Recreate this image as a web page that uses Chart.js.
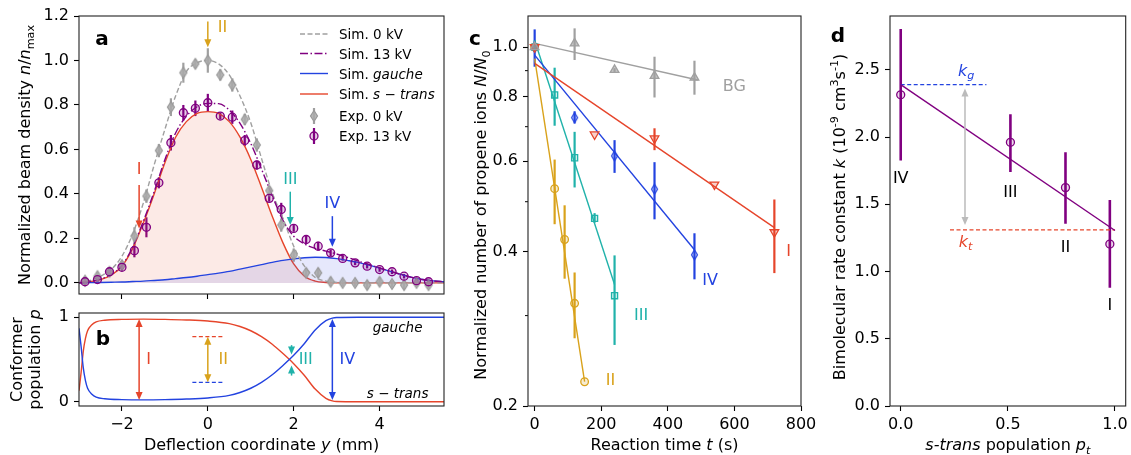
<!DOCTYPE html>
<html>
<head>
<meta charset="utf-8">
<title>Conformer-selected reaction kinetics</title>
<script src="https://cdn.jsdelivr.net/npm/chart.js@4.4.1/dist/chart.umd.min.js"></script>
<style>
  html, body { margin: 0; padding: 0; background: #fff; }
  #fig { position: relative; width: 1131px; height: 455px; }
  #fig canvas { position: absolute; left: 0; top: 0; }
</style>
</head>
<body>
<div id="fig">
  <canvas id="panelA" width="1131" height="455"></canvas>
  <canvas id="panelB" width="1131" height="455"></canvas>
  <canvas id="panelC" width="1131" height="455"></canvas>
  <canvas id="panelD" width="1131" height="455"></canvas>
</div>
<script>
// ---- panel a: beam profiles ----
const expY = [-2.86, -2.57, -2.29, -2.0, -1.71, -1.43, -1.14, -0.86, -0.57, -0.29, 0, 0.29, 0.57, 0.86, 1.14,
  1.43, 1.71, 2.0, 2.29, 2.57, 2.86, 3.14, 3.43, 3.71, 4.0, 4.29, 4.57, 4.86, 5.14];
const exp0kV = [0.01, 0.03, 0.05, 0.08, 0.21, 0.39, 0.595, 0.79, 0.945, 0.985, 1.0, 0.935, 0.89, 0.735, 0.62,
  0.415, 0.26, 0.125, 0.045, 0.045, 0.005, 0.0, 0.0, -0.01, 0.005, -0.005, -0.01, 0.0, -0.01];
const exp0kVErr = [0.02, 0.02, 0.02, 0.02, 0.04, 0.03, 0.03, 0.04, 0.045, 0.02, 0.055, 0.025, 0.03, 0.025, 0.03,
  0.02, 0.03, 0.03, 0.02, 0.02, 0.02, 0.015, 0.015, 0.02, 0.02, 0.015, 0.02, 0.015, 0.015];
const exp13kV = [0.005, 0.015, 0.05, 0.07, 0.145, 0.25, 0.45, 0.63, 0.765, 0.785, 0.81, 0.75, 0.745, 0.64, 0.53,
  0.38, 0.33, 0.245, 0.195, 0.165, 0.135, 0.11, 0.09, 0.075, 0.06, 0.05, 0.03, 0.01, 0.005];
const exp13kVErr = [0.01, 0.01, 0.015, 0.015, 0.03, 0.045, 0.025, 0.035, 0.035, 0.035, 0.04, 0.015, 0.03, 0.025, 0.02,
  0.015, 0.03, 0.015, 0.02, 0.02, 0.015, 0.01, 0.01, 0.01, 0.01, 0.01, 0.01, 0.01, 0.01];

const simY = [-3, -2.75, -2.5, -2.25, -2, -1.75, -1.5, -1.25, -1, -0.75, -0.5, -0.25, 0, 0.25, 0.5, 0.75, 1,
  1.25, 1.5, 1.75, 2, 2.25, 2.5, 2.75, 3, 3.25, 3.5, 3.75, 4, 4.25, 4.5, 4.75, 5, 5.25, 5.5];
const sim0kV = [0, 0.01, 0.03, 0.06, 0.12, 0.22, 0.36, 0.53, 0.69, 0.84, 0.95, 0.99, 1.0, 0.985, 0.935, 0.84, 0.72,
  0.56, 0.405, 0.29, 0.165, 0.075, 0.025, 0.008, 0.002, 0, 0, 0, 0, 0, 0, 0, 0, 0, 0];
const sim13kV = [0, 0.006, 0.017, 0.038, 0.079, 0.161, 0.278, 0.41, 0.554, 0.674, 0.749, 0.792, 0.807, 0.806, 0.777,
  0.717, 0.627, 0.512, 0.392, 0.281, 0.21, 0.175, 0.155, 0.143, 0.13, 0.115, 0.098, 0.083, 0.067, 0.052, 0.038,
  0.025, 0.015, 0.009, 0.005];
const simGauche = [0, 0.001, 0.002, 0.003, 0.004, 0.006, 0.008, 0.011, 0.014, 0.019, 0.024, 0.03, 0.037, 0.044,
  0.052, 0.062, 0.072, 0.082, 0.092, 0.101, 0.108, 0.113, 0.115, 0.114, 0.109, 0.101, 0.092, 0.08, 0.066, 0.052,
  0.038, 0.025, 0.015, 0.009, 0.005];
const simTrans = [0, 0.005, 0.015, 0.035, 0.075, 0.155, 0.27, 0.4, 0.54, 0.655, 0.725, 0.762, 0.77, 0.762, 0.725,
  0.655, 0.555, 0.43, 0.3, 0.18, 0.085, 0.03, 0.008, 0.002, 0, 0, 0, 0, 0, 0, 0, 0, 0, 0, 0];

// ---- panel b: conformer populations ----
const popY = [-3.0, -2.95, -2.9, -2.85, -2.8, -2.7, -2.6, -2.4, -2.0, -1.5, -1.0, -0.5, 0, 0.5, 0.75, 1.0, 1.25,
  1.5, 1.75, 2.0, 2.25, 2.5, 2.75, 2.9, 3.0, 3.5, 4.0, 5.5];
const popTrans = [0.13, 0.35, 0.6, 0.75, 0.84, 0.91, 0.945, 0.965, 0.975, 0.978, 0.975, 0.968, 0.955, 0.925, 0.89,
  0.84, 0.77, 0.68, 0.57, 0.45, 0.31, 0.15, 0.04, 0.01, 0.003, 0, 0, 0];
const popGauche = [0.87, 0.65, 0.4, 0.25, 0.16, 0.09, 0.055, 0.035, 0.025, 0.022, 0.025, 0.032, 0.045, 0.075, 0.11,
  0.16, 0.23, 0.32, 0.43, 0.55, 0.69, 0.85, 0.96, 0.99, 0.997, 1, 1, 1];
const popIIy = [-0.36, 0.34];
const popIItrans = [0.77, 0.77];
const popIIgauche = [0.23, 0.23];

// ---- panel c: depletion of propene ions ----
const tBG = [0, 120, 240, 360, 480];
const nBG = [1.0, 1.017, 0.903, 0.879, 0.872];
const nBGlo = [1.0, 0.944, 0.895, 0.798, 0.808];
const nBGhi = [1.0, 1.088, 0.91, 0.958, 0.941];
const fitBGt = [0, 490];
const fitBG = [1.017, 0.863];

const tI = [0, 180, 360, 540, 720];
const nI = [1.0, 0.676, 0.664, 0.54, 0.436];
const nIlo = [1.0, 0.676, 0.63, 0.54, 0.363];
const nIhi = [1.0, 0.676, 0.695, 0.54, 0.505];
const fitIt = [0, 720];
const fitI = [0.93, 0.445];

const tII = [0, 60, 90, 120, 150];
const nII = [1.0, 0.53, 0.422, 0.317, 0.223];
const nIIlo = [1.0, 0.452, 0.354, 0.271, 0.223];
const nIIhi = [1.0, 0.604, 0.492, 0.364, 0.223];
const fitIIt = [0, 150];
const fitII = [0.95, 0.223];

const tIII = [0, 60, 120, 180, 240];
const nIII = [1.0, 0.807, 0.609, 0.464, 0.328];
const nIIIlo = [0.98, 0.703, 0.533, 0.455, 0.263];
const nIIIhi = [1.03, 0.912, 0.684, 0.475, 0.393];
const fitIIIt = [0, 240];
const fitIII = [1.03, 0.345];

const tIV = [0, 120, 240, 360, 480];
const nIV = [1.0, 0.729, 0.614, 0.529, 0.394];
const nIVlo = [0.916, 0.71, 0.569, 0.462, 0.353];
const nIVhi = [1.083, 0.75, 0.659, 0.597, 0.434];
const fitIVt = [0, 480];
const fitIV = [0.965, 0.403];

// ---- panel d: rate constants ----
const pTrans = [0.0, 0.512, 0.769, 0.976];
const kRate = [2.314, 1.961, 1.624, 1.204];
const kRateLo = [1.825, 1.74, 1.355, 0.879];
const kRateHi = [2.803, 2.17, 1.887, 1.532];
const fitKp = [0.0, 1.0];
const fitK = [2.39, 1.305];
const kgP = [0.0, 0.4];
const kgVal = [2.39, 2.39];
const ktP = [0.23, 1.0];
const ktVal = [1.31, 1.31];
const regionNames = ['IV', 'III', 'II', 'I'];

// tick positions
const ticksAx = [-2, 0, 2, 4];
const ticksAy = [0, 0.2, 0.4, 0.6, 0.8, 1.0, 1.2];
const ticksBy = [0, 1];
const ticksCx = [0, 200, 400, 600, 800];
const ticksCy = [0.2, 0.4, 0.6, 0.8, 1.0];
const minorCy = [0.3, 0.5, 0.7, 0.9];
const ticksDx = [0, 0.5, 1.0];
const ticksDy = [0, 0.5, 1.0, 1.5, 2.0, 2.5];

// colours
const RED = '#e6452b';
const BLUE = '#2343e0';
const GOLD = '#d9a21b';
const TEAL = '#20b2aa';
const PURPLE = '#800080';
const GRAY = '#a0a0a0';
const FONT = '"DejaVu Sans", sans-serif';

Chart.defaults.font.family = FONT;
Chart.defaults.font.size = 16;
Chart.defaults.color = '#000';
Chart.defaults.animation = false;

function pts(xs, ys) { return xs.map((x, i) => ({ x: x, y: ys[i] })); }

function axis(min, max, ticks, size, horiz, fmt, type, pad) {
  return {
    type: type || 'linear', min: min, max: max,
    afterBuildTicks: s => { s.ticks = ticks.map(v => ({ value: v })); },
    afterFit: s => {
      if (horiz) s.height = size; else s.width = size;
      s.paddingLeft = 0; s.paddingRight = 0; s.paddingTop = 0; s.paddingBottom = 0;
    },
    grid: { drawOnChartArea: false, drawTicks: true, tickLength: 5, tickWidth: 1.1, tickColor: '#000' },
    border: { display: false },
    ticks: { padding: pad || 4, autoSkip: false, maxRotation: 0, minRotation: 0, callback: fmt }
  };
}
const fmtNone = () => '';
const fmtMinus = v => (v < 0 ? '\u2212' : '') + Math.abs(v);
const fmt1 = v => Number(v).toFixed(1);
const fmtInt = v => String(v);

// text with italic / sub / superscript pieces
function rich(ctx, segs, x, y, size, opt) {
  opt = opt || {};
  ctx.save();
  ctx.translate(x, y);
  if (opt.rot) ctx.rotate(-Math.PI / 2);
  ctx.fillStyle = opt.color || '#000';
  ctx.textBaseline = 'alphabetic';
  ctx.textAlign = 'left';
  let w = 0;
  const f = segs.map(s => {
    const sz = (s.sub || s.sup) ? size * 0.7 : size;
    const font = (s.i ? 'italic ' : '') + (s.b ? 'bold ' : '') + sz + 'px ' + FONT;
    ctx.font = font;
    const ww = ctx.measureText(s.t).width;
    w += ww;
    return { font: font, w: ww };
  });
  let cx = opt.left ? 0 : -w / 2;
  segs.forEach((s, k) => {
    ctx.font = f[k].font;
    const dy = s.sub ? size * 0.22 : (s.sup ? -size * 0.42 : 0);
    ctx.fillText(s.t, cx, dy);
    cx += f[k].w;
  });
  ctx.restore();
}

function label(ctx, text, x, y, size, color, bold) {
  ctx.save();
  ctx.font = (bold ? 'bold ' : '') + size + 'px ' + FONT;
  ctx.fillStyle = color || '#000';
  ctx.textAlign = 'center';
  ctx.textBaseline = 'middle';
  ctx.fillText(text, x, y);
  ctx.restore();
}

function head(ctx, x, y, dx, dy, color) {
  const L = 8, W = 3.5;
  const n = Math.hypot(dx, dy); dx /= n; dy /= n;
  ctx.fillStyle = color;
  ctx.beginPath();
  ctx.moveTo(x, y);
  ctx.lineTo(x - dx * L - dy * W, y - dy * L + dx * W);
  ctx.lineTo(x - dx * L + dy * W, y - dy * L - dx * W);
  ctx.closePath();
  ctx.fill();
}

function arrow(ctx, x0, y0, x1, y1, color, both) {
  ctx.save();
  ctx.strokeStyle = color;
  ctx.lineWidth = 1.5;
  const n = Math.hypot(x1 - x0, y1 - y0);
  const ux = (x1 - x0) / n, uy = (y1 - y0) / n;
  ctx.beginPath();
  ctx.moveTo(both ? x0 + ux * 6 : x0, both ? y0 + uy * 6 : y0);
  ctx.lineTo(x1 - ux * 6, y1 - uy * 6);
  ctx.stroke();
  head(ctx, x1, y1, ux, uy, color);
  if (both) head(ctx, x0, y0, -ux, -uy, color);
  ctx.restore();
}

function frame(chart) {
  const { ctx, chartArea: a } = chart;
  ctx.save();
  ctx.strokeStyle = '#222';
  ctx.lineWidth = 1.1;
  ctx.strokeRect(a.left, a.top, a.right - a.left, a.bottom - a.top);
  ctx.restore();
}

const errorBars = {
  id: 'errorBars',
  beforeDatasetsDraw(chart) {
    const { ctx, chartArea: a, scales } = chart;
    ctx.save();
    ctx.beginPath();
    ctx.rect(a.left, a.top, a.right - a.left, a.bottom - a.top);
    ctx.clip();
    chart.data.datasets.forEach(ds => {
      if (!ds.errLo) return;
      ctx.strokeStyle = ds.errColor;
      ctx.lineWidth = ds.errWidth || 2;
      ds.data.forEach((p, i) => {
        const px = scales.x.getPixelForValue(p.x);
        ctx.beginPath();
        ctx.moveTo(px, scales.y.getPixelForValue(ds.errLo[i]));
        ctx.lineTo(px, scales.y.getPixelForValue(ds.errHi[i]));
        ctx.stroke();
      });
    });
    ctx.restore();
  }
};

function diamond(stroke, fill, w, h) {
  const c = document.createElement('canvas');
  c.width = w + 3; c.height = h + 3;
  const g = c.getContext('2d');
  g.beginPath();
  g.moveTo(c.width / 2, 1.5);
  g.lineTo(c.width - 1.5, c.height / 2);
  g.lineTo(c.width / 2, c.height - 1.5);
  g.lineTo(1.5, c.height / 2);
  g.closePath();
  g.fillStyle = fill; g.fill();
  g.lineWidth = 1.2; g.strokeStyle = stroke; g.stroke();
  return c;
}
const grayDiamond = diamond('#999', 'rgba(170,170,170,0.85)', 7, 11);
const blueDiamond = diamond(BLUE, 'rgba(35,67,224,0.2)', 6, 10);

function curve(xs, ys, color, extra) {
  return Object.assign({
    data: pts(xs, ys), showLine: true, borderColor: color, borderWidth: 1.4,
    pointRadius: 0, cubicInterpolationMode: 'monotone', fill: false
  }, extra || {});
}
function markers(xs, ys, lo, hi, color, extra) {
  return Object.assign({
    data: pts(xs, ys), showLine: false, errLo: lo, errHi: hi, errColor: color, errWidth: 2.2,
    pointRadius: 4, pointBorderWidth: 1.3, pointBorderColor: color
  }, extra || {});
}

// ---------------- panel a ----------------
const decoA = {
  id: 'decoA',
  afterDatasetsDraw(chart) {
    const { ctx, chartArea: a, scales: { x, y } } = chart;
    const ar = [
      { px: -1.6, y0: 0.44, y1: 0.245, c: RED, t: 'I', ty: 0.51, tx: -1.6 },
      { px: 0, y0: 1.175, y1: 1.06, c: GOLD, t: 'II', ty: 1.145, tx: 0.34 },
      { px: 1.92, y0: 0.41, y1: 0.26, c: TEAL, t: 'III', ty: 0.465, tx: 1.92 },
      { px: 2.9, y0: 0.3, y1: 0.162, c: BLUE, t: 'IV', ty: 0.355, tx: 2.9 }
    ];
    ar.forEach(r => {
      arrow(ctx, x.getPixelForValue(r.px), y.getPixelForValue(r.y0), x.getPixelForValue(r.px), y.getPixelForValue(r.y1), r.c, false);
      label(ctx, r.t, x.getPixelForValue(r.tx), y.getPixelForValue(r.ty), 16, r.c);
    });
    label(ctx, 'a', a.left + 23, a.top + 24, 20, '#000', true);

    // legend
    const x0 = a.right - 144, x1 = a.right - 116, tx = a.right - 105, mx = (x0 + x1) / 2;
    const rows = [34, 53.5, 73.5, 94, 116, 136];
    ctx.save();
    ctx.lineWidth = 1.4;
    const line = (r, c, dash) => {
      ctx.strokeStyle = c; ctx.setLineDash(dash);
      ctx.beginPath(); ctx.moveTo(x0, rows[r]); ctx.lineTo(x1, rows[r]); ctx.stroke();
    };
    line(0, GRAY, [5, 2.5]);
    line(1, PURPLE, [8, 2.5, 1.5, 2.5]);
    line(2, BLUE, []);
    line(3, RED, []);
    ctx.setLineDash([]);
    ctx.lineWidth = 2.2;
    ctx.strokeStyle = GRAY;
    ctx.beginPath(); ctx.moveTo(mx, rows[4] - 8); ctx.lineTo(mx, rows[4] + 8); ctx.stroke();
    ctx.drawImage(grayDiamond, mx - grayDiamond.width / 2, rows[4] - grayDiamond.height / 2);
    ctx.strokeStyle = PURPLE;
    ctx.beginPath(); ctx.moveTo(mx, rows[5] - 8); ctx.lineTo(mx, rows[5] + 8); ctx.stroke();
    ctx.lineWidth = 1.3;
    ctx.fillStyle = 'rgba(128,0,128,0.2)';
    ctx.beginPath(); ctx.arc(mx, rows[5], 4, 0, Math.PI * 2); ctx.fill(); ctx.stroke();
    ctx.restore();
    const fs = 13.5, off = 5;
    rich(ctx, [{ t: 'Sim. 0 kV' }], tx, rows[0] + off, fs, { left: true });
    rich(ctx, [{ t: 'Sim. 13 kV' }], tx, rows[1] + off, fs, { left: true });
    rich(ctx, [{ t: 'Sim. ' }, { t: 'gauche', i: 1 }], tx, rows[2] + off, fs, { left: true });
    rich(ctx, [{ t: 'Sim. ' }, { t: 's', i: 1 }, { t: ' \u2212 ' }, { t: 'trans', i: 1 }], tx, rows[3] + off, fs, { left: true });
    rich(ctx, [{ t: 'Exp. 0 kV' }], tx, rows[4] + off, fs, { left: true });
    rich(ctx, [{ t: 'Exp. 13 kV' }], tx, rows[5] + off, fs, { left: true });

    rich(ctx, [{ t: 'Normalized beam density ' }, { t: 'n', i: 1 }, { t: '/' }, { t: 'n', i: 1 }, { t: 'max', sub: 1 }],
      30, (a.top + a.bottom) / 2, 16, { rot: true });
    frame(chart);
  }
};

new Chart(document.getElementById('panelA'), {
  type: 'scatter',
  data: {
    datasets: [
      markers(expY, exp13kV, exp13kV.map((v, i) => v - exp13kVErr[i]), exp13kV.map((v, i) => v + exp13kVErr[i]), PURPLE,
        { pointBackgroundColor: 'rgba(128,0,128,0.2)' }),
      markers(expY, exp0kV, exp0kV.map((v, i) => v - exp0kVErr[i]), exp0kV.map((v, i) => v + exp0kVErr[i]), GRAY,
        { pointStyle: grayDiamond }),
      curve(simY, sim13kV, PURPLE, { borderDash: [8, 2.5, 1.5, 2.5] }),
      curve(simY, sim0kV, GRAY, { borderDash: [5, 2.5] }),
      curve(simY, simGauche, BLUE, { fill: 'origin', backgroundColor: 'rgba(60,80,230,0.13)' }),
      curve(simY, simTrans, RED, { fill: 'origin', backgroundColor: 'rgba(235,95,60,0.13)' })
    ]
  },
  options: {
    responsive: false,
    layout: { padding: { left: 29, right: 687, top: 16, bottom: 153 } },
    plugins: { legend: { display: false }, tooltip: { enabled: false } },
    scales: {
      x: axis(-3, 5.5, ticksAx, 8, true, fmtNone),
      y: axis(-0.05, 1.2, ticksAy, 50, false, fmt1, 'linear', 5)
    }
  },
  plugins: [errorBars, decoA]
});

// ---------------- panel b ----------------
const decoB = {
  id: 'decoB',
  afterDatasetsDraw(chart) {
    const { ctx, chartArea: a, scales: { x, y } } = chart;
    const X = v => x.getPixelForValue(v), Y = v => y.getPixelForValue(v);
    arrow(ctx, X(-1.6), Y(0.02), X(-1.6), Y(0.98), RED, true);
    arrow(ctx, X(0), Y(0.23), X(0), Y(0.77), GOLD, true);
    arrow(ctx, X(1.95), Y(0.67), X(1.95), Y(0.56), TEAL, false);
    arrow(ctx, X(1.95), Y(0.31), X(1.95), Y(0.43), TEAL, false);
    arrow(ctx, X(2.9), Y(0.02), X(2.9), Y(0.98), BLUE, true);
    label(ctx, 'I', X(-1.38), Y(0.5), 16, RED);
    label(ctx, 'II', X(0.36), Y(0.5), 16, GOLD);
    label(ctx, 'III', X(2.28), Y(0.5), 16, TEAL);
    label(ctx, 'IV', X(3.25), Y(0.5), 16, BLUE);
    label(ctx, 'b', a.left + 24, a.top + 27, 20, '#000', true);
    rich(ctx, [{ t: 'gauche', i: 1 }], X(4.42), Y(0.88) + 5, 13.5);
    rich(ctx, [{ t: 's', i: 1 }, { t: ' \u2212 ' }, { t: 'trans', i: 1 }], X(4.42), Y(0.1) + 5, 13.5);
    rich(ctx, [{ t: 'Conformer' }], 22, (a.top + a.bottom) / 2, 16, { rot: true });
    rich(ctx, [{ t: 'population ' }, { t: 'p', i: 1 }], 40, (a.top + a.bottom) / 2, 16, { rot: true });
    rich(ctx, [{ t: 'Deflection coordinate ' }, { t: 'y', i: 1 }, { t: ' (mm)' }], (a.left + a.right) / 2, 450, 16);
    frame(chart);
  }
};

new Chart(document.getElementById('panelB'), {
  type: 'scatter',
  data: {
    datasets: [
      curve(popIIy, popIItrans, RED, { borderDash: [4, 2.5], borderWidth: 1.2, cubicInterpolationMode: 'default' }),
      curve(popIIy, popIIgauche, BLUE, { borderDash: [4, 2.5], borderWidth: 1.2, cubicInterpolationMode: 'default' }),
      curve(popY, popGauche, BLUE),
      curve(popY, popTrans, RED)
    ]
  },
  options: {
    responsive: false,
    layout: { padding: { left: 29, right: 687, top: 313, bottom: 19 } },
    plugins: { legend: { display: false }, tooltip: { enabled: false } },
    scales: {
      x: axis(-3, 5.5, ticksAx, 30, true, fmtMinus),
      y: axis(-0.05, 1.05, ticksBy, 50, false, fmtInt, 'linear', 5)
    }
  },
  plugins: [decoB]
});

// ---------------- panel c ----------------
const decoC = {
  id: 'decoC',
  afterDatasetsDraw(chart) {
    const { ctx, chartArea: a, scales: { x, y } } = chart;
    const X = v => x.getPixelForValue(v), Y = v => y.getPixelForValue(v);
    ctx.save();
    ctx.strokeStyle = '#000'; ctx.lineWidth = 1;
    minorCy.forEach(v => {
      ctx.beginPath(); ctx.moveTo(a.left, Y(v)); ctx.lineTo(a.left - 3, Y(v)); ctx.stroke();
    });
    ctx.restore();
    label(ctx, 'BG', X(600), Y(0.836), 16, GRAY);
    label(ctx, 'I', X(763), Y(0.399), 16, RED);
    label(ctx, 'IV', X(527), Y(0.35), 16, BLUE);
    label(ctx, 'III', X(320), Y(0.299), 16, TEAL);
    label(ctx, 'II', X(228), Y(0.224), 16, GOLD);
    label(ctx, 'c', a.left - 53, a.top + 24, 20, '#000', true);
    rich(ctx, [{ t: 'Normalized number of propene ions ' }, { t: 'N', i: 1 }, { t: '/' }, { t: 'N', i: 1 }, { t: '0', sub: 1 }],
      486, (a.top + a.bottom) / 2 + 4, 16, { rot: true });
    rich(ctx, [{ t: 'Reaction time ' }, { t: 't', i: 1 }, { t: ' (s)' }], (a.left + a.right) / 2, 450, 16);
    frame(chart);
  }
};

const fitStyle = { borderWidth: 1.4, cubicInterpolationMode: 'default' };
new Chart(document.getElementById('panelC'), {
  type: 'scatter',
  data: {
    datasets: [
      markers(tBG, nBG, nBGlo, nBGhi, GRAY, { pointStyle: 'triangle', pointRadius: 5, pointBackgroundColor: 'rgba(160,160,160,0.6)' }),
      markers(tI, nI, nIlo, nIhi, RED, { pointStyle: 'triangle', pointRotation: 180, pointRadius: 5, pointBackgroundColor: 'rgba(230,69,43,0.25)' }),
      markers(tIV, nIV, nIVlo, nIVhi, BLUE, { pointStyle: blueDiamond }),
      markers(tIII, nIII, nIIIlo, nIIIhi, TEAL, { pointStyle: 'rect', pointRadius: 4.3, pointBackgroundColor: 'rgba(32,178,170,0.2)' }),
      markers(tII, nII, nIIlo, nIIhi, GOLD, { pointStyle: 'circle', pointRadius: 3.8, pointBackgroundColor: 'rgba(217,162,27,0.2)' }),
      curve(fitBGt, fitBG, GRAY, fitStyle),
      curve(fitIt, fitI, RED, fitStyle),
      curve(fitIVt, fitIV, BLUE, fitStyle),
      curve(fitIIIt, fitIII, TEAL, fitStyle),
      curve(fitIIt, fitII, GOLD, fitStyle)
    ]
  },
  options: {
    responsive: false,
    layout: { padding: { left: 478, right: 330, top: 16, bottom: 19 } },
    plugins: { legend: { display: false }, tooltip: { enabled: false } },
    scales: {
      x: axis(-20, 800, ticksCx, 30, true, fmtInt),
      y: axis(0.2, 1.15, ticksCy, 50, false, fmt1, 'logarithmic', 5)
    }
  },
  plugins: [errorBars, decoC]
});

// ---------------- panel d ----------------
const decoD = {
  id: 'decoD',
  afterDatasetsDraw(chart) {
    const { ctx, chartArea: a, scales: { x, y } } = chart;
    const X = v => x.getPixelForValue(v), Y = v => y.getPixelForValue(v);
    arrow(ctx, X(0.3), Y(1.345), X(0.3), Y(2.36), '#bbbbbb', true);
    const ly = [1.69, 1.585, 1.176, 0.744];
    regionNames.forEach((n, i) => label(ctx, n, X(pTrans[i]), Y(ly[i]), 16, '#000'));
    rich(ctx, [{ t: 'k', i: 1 }, { t: 'g', i: 1, sub: 1 }], X(0.306), Y(2.487) + 4, 16, { color: BLUE });
    rich(ctx, [{ t: 'k', i: 1 }, { t: 't', i: 1, sub: 1 }], X(0.303), Y(1.213) + 4, 16, { color: RED });
    label(ctx, 'd', a.left - 52, a.top + 21, 20, '#000', true);
    rich(ctx, [{ t: 'Bimolecular rate constant ' }, { t: 'k', i: 1 }, { t: ' (10' }, { t: '-9', sup: 1 }, { t: ' cm' },
      { t: '3', sup: 1 }, { t: 's' }, { t: '-1', sup: 1 }, { t: ')' }], 845, (a.top + a.bottom) / 2 + 6, 16, { rot: true });
    rich(ctx, [{ t: 's-trans', i: 1 }, { t: ' population ' }, { t: 'p', i: 1 }, { t: 't', i: 1, sub: 1 }], (a.left + a.right) / 2, 450, 16);
    frame(chart);
  }
};

new Chart(document.getElementById('panelD'), {
  type: 'scatter',
  data: {
    datasets: [
      markers(pTrans, kRate, kRateLo, kRateHi, PURPLE, { pointRadius: 4, pointBackgroundColor: 'rgba(128,0,128,0.15)', errWidth: 2.6 }),
      curve(fitKp, fitK, PURPLE, fitStyle),
      curve(kgP, kgVal, BLUE, { borderDash: [4, 2.5], borderWidth: 1.2, cubicInterpolationMode: 'default' }),
      curve(ktP, ktVal, RED, { borderDash: [4, 2.5], borderWidth: 1.2, cubicInterpolationMode: 'default' })
    ]
  },
  options: {
    responsive: false,
    layout: { padding: { left: 840, right: 2, top: 16, bottom: 19 } },
    plugins: { legend: { display: false }, tooltip: { enabled: false } },
    scales: {
      x: axis(-0.05, 1.05, ticksDx, 30, true, fmt1),
      y: axis(0, 2.9, ticksDy, 50, false, fmt1, 'linear', 5)
    }
  },
  plugins: [errorBars, decoD]
});
</script>
</body>
</html>
